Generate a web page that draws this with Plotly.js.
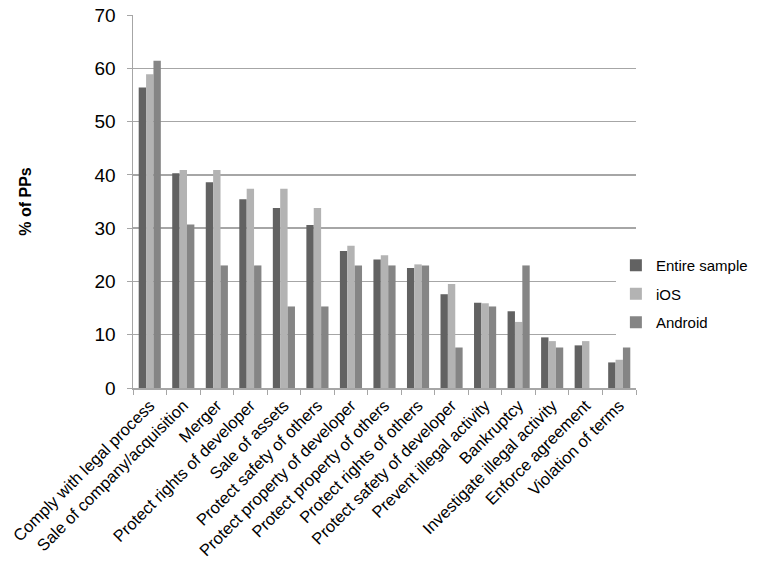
<!DOCTYPE html>
<html>
<head>
<meta charset="utf-8">
<script src="https://cdn.plot.ly/plotly-3.0.1.min.js"></script>
<style>
  html, body { margin: 0; padding: 0; background: #fff; }
  #chart { width: 766px; height: 567px; }
</style>
</head>
<body>
<div id="chart"></div>
<script>
var categories = ['Comply with legal process', 'Sale of company/acquisition', 'Merger',
	'Protect rights of developer', 'Sale of assets', 'Protect safety of others',
	'Protect property of developer', 'Protect property of others', 'Protect rights of others',
	'Protect safety of developer', 'Prevent illegal activity', 'Bankruptcy',
	'Investigate illegal activity', 'Enforce agreement', 'Violation of terms'];

var entire_sample = [56.4, 40.3, 38.6, 35.4, 33.8, 30.6, 25.7, 24.1, 22.5, 17.6, 16.0, 14.4, 9.5, 8.0, 4.8];
var ios = [58.9, 40.9, 40.9, 37.4, 37.4, 33.8, 26.7, 24.9, 23.2, 19.5, 15.9, 12.4, 8.8, 8.8, 5.3];
var android = [61.4, 30.7, 23.0, 23.0, 15.3, 15.3, 23.0, 23.0, 23.0, 7.6, 15.3, 23.0, 7.6, 0, 7.6];

var y_ticks = [0, 10, 20, 30, 40, 50, 60, 70];

var grey_line = '#a6a6a6';

function bar_trace(y_vals, name, color) {
	return {
		x: categories,
		y: y_vals,
		name: name,
		legendgroup: name,
		type: 'bar',
		marker: {color: color},
		hoverinfo: 'y+name'
	};
}

var data = [
	bar_trace(entire_sample, 'Entire sample', '#626262'),
	bar_trace(ios, 'iOS', '#b3b3b3'),
	bar_trace(android, 'Android', '#858585')
];

var layout = {
	width: 766,
	height: 567,
	margin: {l: 133, r: 130, t: 15, b: 179, pad: 0},
	paper_bgcolor: '#ffffff',
	plot_bgcolor: '#ffffff',
	barmode: 'group',
	bargap: 0.34,
	bargroupgap: 0,
	font: {family: 'Liberation Sans, Arial, sans-serif', size: 16, color: '#000000'},
	showlegend: true,
	legend: {
		x: 0.96,
		xanchor: 'left',
		y: 0.252,
		yanchor: 'middle',
		font: {size: 15},
		itemwidth: 30,
		traceorder: 'grouped',
		tracegroupgap: 6
	},
	xaxis: {
		tickangle: -45,
		tickson: 'boundaries',
		ticks: 'outside',
		ticklen: 5,
		tickcolor: grey_line,
		showline: true,
		linecolor: grey_line,
		linewidth: 1.5,
		showgrid: false,
		tickfont: {size: 16.5},
		automargin: false
	},
	yaxis: {
		range: [0, 70],
		tickvals: y_ticks,
		ticks: 'outside',
		ticklen: 5,
		tickcolor: grey_line,
		ticklabelstandoff: 7,
		showline: true,
		linecolor: grey_line,
		linewidth: 1.5,
		showgrid: true,
		gridcolor: grey_line,
		gridwidth: 1.5,
		zeroline: false,
		tickfont: {size: 19},
		title: {
			text: '<b>% of PPs</b>',
			font: {size: 16},
			standoff: 59
		},
		automargin: false
	}
};

Plotly.newPlot('chart', data, layout, {displayModeBar: false, staticPlot: true});
</script>
</body>
</html>
